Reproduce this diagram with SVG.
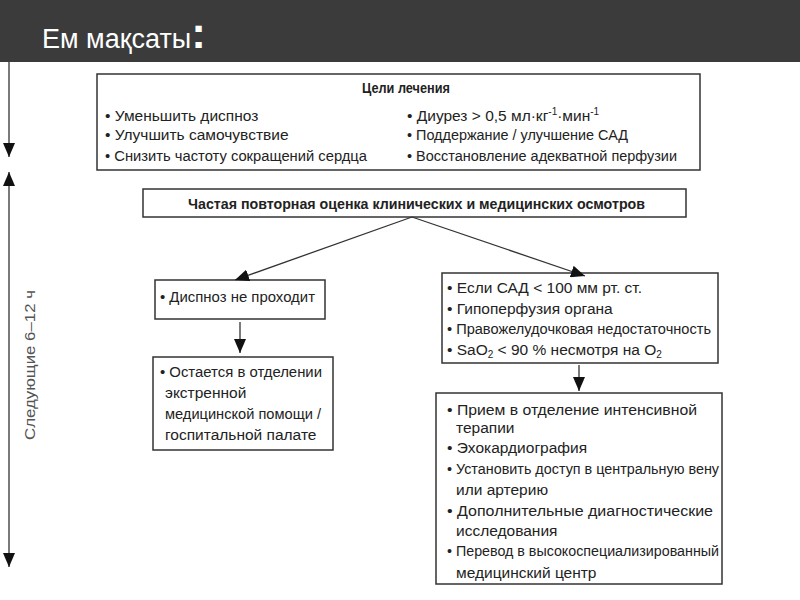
<svg xmlns="http://www.w3.org/2000/svg" width="800" height="600" viewBox="0 0 800 600">
<defs>
<style>
.t{font-family:"Liberation Sans",Arial,sans-serif;font-size:15.5px;fill:#222}
.b{font-weight:bold}
.box{fill:#fff;stroke:#333;stroke-width:1.5}
.con{stroke:#333;stroke-width:1.3;fill:none}
.sup{font-size:10px}
</style>
<marker id="ah2" viewBox="0 0 10 10" refX="10" refY="5" markerWidth="14" markerHeight="12" markerUnits="userSpaceOnUse" orient="auto-start-reverse" preserveAspectRatio="none">
<path d="M0,0 L10,5 L0,10 Z" fill="#111"/>
</marker>
</defs>
<rect width="800" height="600" fill="#fff"/>
<g id="header">
<rect x="0" y="0" width="800" height="62" fill="#3b3b3b"/>
<text x="42" y="48" style="font-family:'Liberation Sans',Arial,sans-serif;font-size:27px;fill:#fff">Ем мақсаты<tspan style="font-size:44px;font-weight:bold">:</tspan></text>
</g>
<g id="timeline">
<line x1="9" y1="62" x2="9" y2="157" class="con" marker-end="url(#ah2)"/>
<line x1="9" y1="172" x2="9" y2="567" class="con" marker-start="url(#ah2)" marker-end="url(#ah2)"/>
<text transform="translate(35,440) rotate(-90)" class="t" style="fill:#555;font-size:14px" textLength="150" lengthAdjust="spacingAndGlyphs">Следующие 6–12 ч</text>
</g>
<g id="goals">
<rect x="97" y="74" width="603" height="96" class="box"/>
<text x="362" y="93" class="t b" textLength="88" lengthAdjust="spacingAndGlyphs">Цели лечения</text>
<text x="105" y="121" class="t">• Уменьшить диспноз</text>
<text x="105" y="140" class="t">• Улучшить самочувствие</text>
<text x="105" y="161" class="t" textLength="262" lengthAdjust="spacingAndGlyphs">• Снизить частоту сокращений сердца</text>
<text x="407" y="121" class="t">• Диурез &gt; 0,5 мл·кг<tspan class="sup" dy="-6">-1</tspan><tspan dy="6">·мин</tspan><tspan class="sup" dy="-6">-1</tspan></text>
<text x="407" y="140" class="t" textLength="221" lengthAdjust="spacingAndGlyphs">• Поддержание / улучшение САД</text>
<text x="407" y="161" class="t" textLength="270" lengthAdjust="spacingAndGlyphs">• Восстановление адекватной перфузии</text>
</g>
<g id="assess">
<rect x="143" y="189" width="543" height="28" class="box"/>
<text x="188" y="209" class="t b" textLength="457" lengthAdjust="spacingAndGlyphs">Частая повторная оценка клинических и медицинских осмотров</text>
</g>
<g id="dyspnea">
<rect x="155" y="280" width="170" height="39" class="box"/>
<text x="160" y="302" class="t" textLength="155" lengthAdjust="spacingAndGlyphs">• Диспноз не проходит</text>
</g>
<g id="stay">
<rect x="153" y="357" width="180" height="93" class="box"/>
<text x="160" y="377" class="t" textLength="162" lengthAdjust="spacingAndGlyphs">• Остается в отделении</text>
<text x="165" y="398" class="t">экстренной</text>
<text x="165" y="419" class="t" textLength="156" lengthAdjust="spacingAndGlyphs">медицинской помощи /</text>
<text x="165" y="440" class="t">госпитальной палате</text>
</g>
<g id="criteria">
<rect x="442" y="273" width="276" height="90" class="box"/>
<text x="447" y="293" class="t">• Если САД &lt; 100 мм рт. ст.</text>
<text x="447" y="314" class="t">• Гипоперфузия органа</text>
<text x="447" y="334" class="t" textLength="264" lengthAdjust="spacingAndGlyphs">• Правожелудочковая недостаточность</text>
<text x="447" y="355" class="t">• SaO<tspan class="sup" dy="3">2</tspan><tspan dy="-3"> &lt; 90 % несмотря на O</tspan><tspan class="sup" dy="3">2</tspan></text>
</g>
<g id="icu">
<rect x="436" y="393" width="286" height="191" class="box"/>
<text x="447" y="415" class="t" textLength="250" lengthAdjust="spacingAndGlyphs">• Прием в отделение интенсивной</text>
<text x="456" y="433" class="t">терапии</text>
<text x="447" y="453" class="t">• Эхокардиография</text>
<text x="447" y="474" class="t" textLength="272" lengthAdjust="spacingAndGlyphs">• Установить доступ в центральную вену</text>
<text x="456" y="495" class="t">или артерию</text>
<text x="447" y="516" class="t" textLength="266" lengthAdjust="spacingAndGlyphs">• Дополнительные диагностические</text>
<text x="456" y="536" class="t">исследования</text>
<text x="447" y="556" class="t" textLength="272" lengthAdjust="spacingAndGlyphs">• Перевод в высокоспециализированный</text>
<text x="456" y="578" class="t">медицинский центр</text>
</g>
<g id="connectors">
<line x1="412" y1="217" x2="235" y2="280" class="con" marker-end="url(#ah2)"/>
<line x1="412" y1="217" x2="585" y2="276" class="con" marker-end="url(#ah2)"/>
<line x1="240" y1="322" x2="240" y2="353" class="con" marker-end="url(#ah2)"/>
<line x1="579" y1="365" x2="579" y2="391" class="con" marker-end="url(#ah2)"/>
</g>
</svg>
